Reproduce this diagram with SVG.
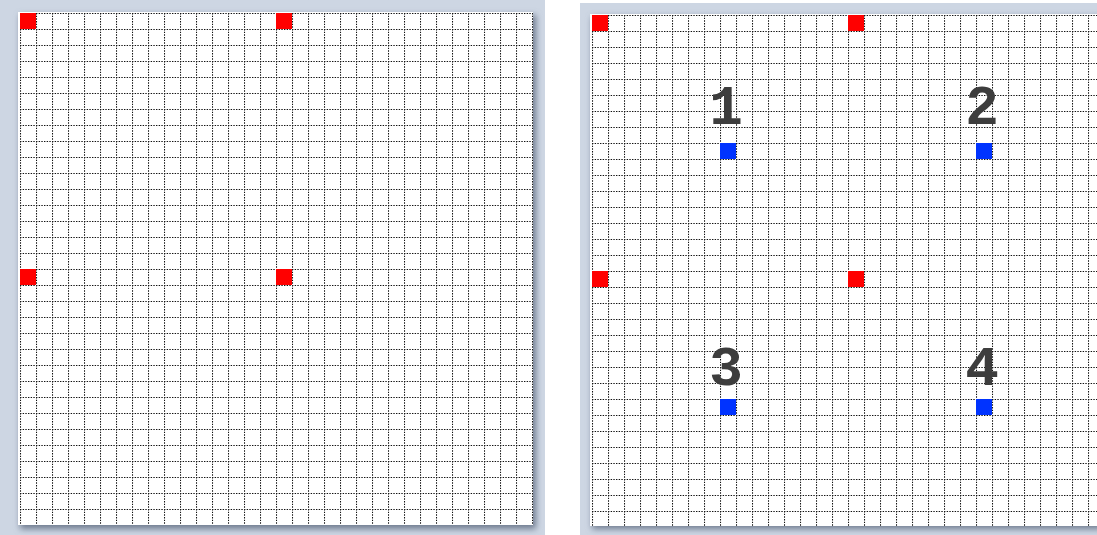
<svg xmlns="http://www.w3.org/2000/svg" width="1097" height="535" viewBox="0 0 1097 535">
  <style>
    .frame { fill: #cdd6e3; }
    .shadow { fill: #6f7c90; filter: url(#blur); }
    .panel { fill: #ffffff; }
    .red { fill: #ff0000; }
    .blue { fill: #0033ff; }
    .num { font-family: "Liberation Mono", "Courier New", monospace; font-weight: bold; font-size: 56px; fill: #3d3d3d; text-anchor: middle; }
  </style>
  <defs>
    <filter id="blur" x="-5%" y="-5%" width="110%" height="110%">
      <feGaussianBlur stdDeviation="3"/>
    </filter>
    <pattern id="grid" patternUnits="userSpaceOnUse" width="16" height="16">
      <path d="M0.5 0 V16 M0 0.5 H16" stroke="#111111" stroke-width="1.1" stroke-dasharray="1.4,1.267" fill="none"/>
    </pattern>
    <pattern id="gridL" href="#grid" x="20" y="13"/>
    <pattern id="gridR" href="#grid" x="592" y="15"/>
  </defs>
  <rect width="1097" height="535" fill="#ffffff"/>

  <g id="panel-left">
    <rect class="frame" x="0" y="0" width="545" height="535"/>
    <rect class="shadow" x="20" y="15" width="516" height="514"/>
    <rect class="panel" x="18" y="12" width="515" height="513"/>
    <rect x="20" y="13" width="513" height="512" fill="url(#gridL)"/>
    <rect class="red" x="20" y="13" width="16" height="16"/>
    <rect class="red" x="276" y="13" width="16" height="16"/>
    <rect class="red" x="20" y="269" width="16" height="16"/>
    <rect class="red" x="276" y="269" width="16" height="16"/>
  </g>

  <g id="panel-right">
    <rect class="frame" x="580" y="3" width="517" height="532"/>
    <rect class="shadow" x="592" y="17" width="510" height="512"/>
    <rect class="panel" x="590" y="14" width="507" height="512"/>
    <rect x="592" y="15" width="505" height="511" fill="url(#gridR)"/>
    <rect class="red" x="592" y="15" width="16" height="16"/>
    <rect class="red" x="848" y="15" width="16" height="16"/>
    <rect class="red" x="592" y="271" width="16" height="16"/>
    <rect class="red" x="848" y="271" width="16" height="16"/>
  </g>

  <g id="point-1">
    <text class="num" x="726" y="124">1</text>
    <rect class="blue" x="720" y="143" width="16" height="16"/>
  </g>
  <g id="point-2">
    <text class="num" x="982" y="124">2</text>
    <rect class="blue" x="976" y="143" width="16" height="16"/>
  </g>
  <g id="point-3">
    <text class="num" x="726" y="385">3</text>
    <rect class="blue" x="720" y="399" width="16" height="16"/>
  </g>
  <g id="point-4">
    <text class="num" x="982" y="385">4</text>
    <rect class="blue" x="976" y="399" width="16" height="16"/>
  </g>
</svg>
